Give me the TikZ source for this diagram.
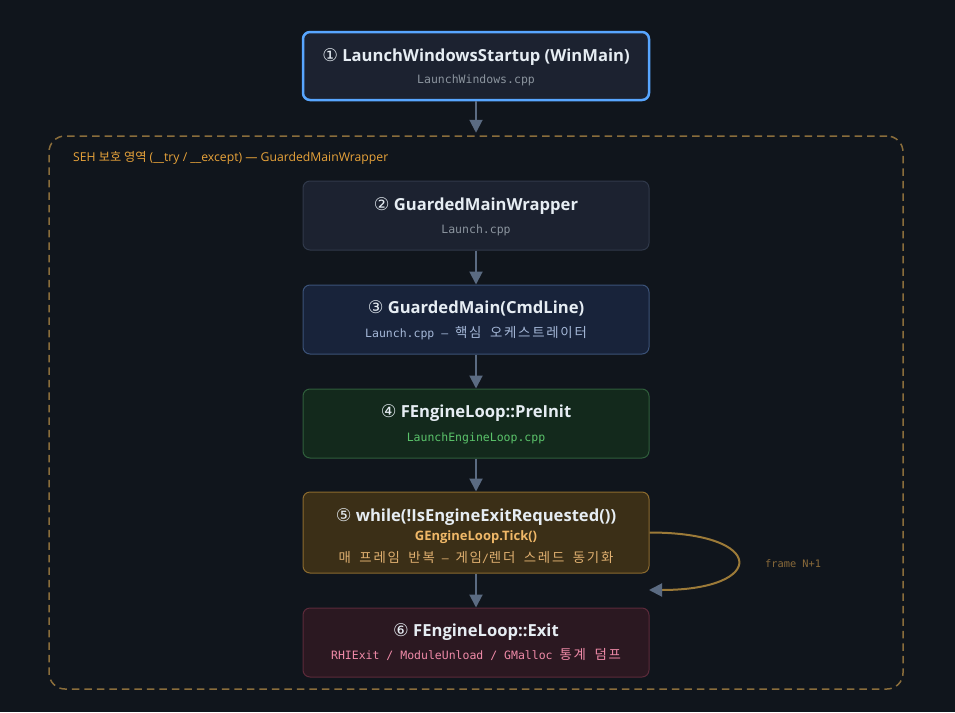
\documentclass[tikz,border=0pt]{standalone}
\usepackage{fontspec}
\setmainfont{Open Sans}
\setmonofont{DejaVu Sans Mono}
\newfontfamily\kr{Noto Sans CJK KR}[LetterSpace=13,WordSpace=1.8]
\newfontfamily\krplain{Noto Sans CJK KR}
\newfontfamily\sym{DejaVu Sans}
\usetikzlibrary{arrows.meta}
\definecolor{bg}{HTML}{10151C}
\definecolor{boxfill}{HTML}{1C2230}
\definecolor{boxline}{HTML}{30394A}
\definecolor{blueline}{HTML}{58A6FF}
\definecolor{bluefill}{HTML}{18233A}
\definecolor{blueedge}{HTML}{3B5278}
\definecolor{greenfill}{HTML}{13291C}
\definecolor{greenedge}{HTML}{2F5E3B}
\definecolor{goldfill}{HTML}{3B2F17}
\definecolor{goldedge}{HTML}{8B6A2E}
\definecolor{redfill}{HTML}{2B1821}
\definecolor{rededge}{HTML}{5C2A3A}
\definecolor{titlec}{HTML}{E6EDF3}
\definecolor{greyc}{HTML}{8B949E}
\definecolor{bluesub}{HTML}{A5B8D8}
\definecolor{greensub}{HTML}{5BC46B}
\definecolor{goldsub}{HTML}{F0B868}
\definecolor{goldsubb}{HTML}{E0B070}
\definecolor{pinksub}{HTML}{F08AA8}
\definecolor{arrowc}{HTML}{5B6B82}
\definecolor{framec}{HTML}{8A6D3B}
\definecolor{sehc}{HTML}{E8A33A}
\definecolor{loopc}{HTML}{9C7A38}
\definecolor{framelab}{HTML}{8A6A3A}
\newcommand{\krt}[1]{{\kr\fontsize{13.4}{15}\selectfont #1}}
\begin{document}
\begin{tikzpicture}[x=1pt,y=-1pt,
  box/.style={rectangle, rounded corners=7pt, minimum width=346pt, inner sep=0pt, line width=1pt},
  ttl/.style={anchor=base, text=titlec, font=\bfseries\fontsize{16.6}{18}\selectfont, inner sep=0pt},
  sub/.style={anchor=base, font=\fontsize{11.5}{13}\selectfont\ttfamily, inner sep=0pt},
  arr/.style={draw=arrowc, line width=2pt, -{Triangle[length=13pt,width=13pt]}},
]
\fill[bg] (0,0) rectangle (955,712);
\useasboundingbox (0,0) rectangle (955,712);

% SEH frame
\node[rectangle, rounded corners=16pt, draw=framec, line width=1.5pt, dash pattern=on 7.5pt off 5pt,
      minimum width=854pt, minimum height=553pt, inner sep=0pt] (seh) at (476,412.5) {};
\node[anchor=base west, inner sep=0pt, text=sehc, font=\fontsize{12.2}{14}\selectfont] (sehlab) at (73,161.5)
  {SEH {\krplain 보호 영역} (\_\_try / \_\_except) — GuardedMainWrapper};

% boxes
\node[box, fill=boxfill, draw=blueline, line width=2.5pt, minimum height=68pt] (n1) at (476,66) {};
\node[box, fill=boxfill, draw=boxline, minimum height=69pt] (n2) at (476,215.5) {};
\node[box, fill=bluefill, draw=blueedge, minimum height=69pt] (n3) at (476,319.5) {};
\node[box, fill=greenfill, draw=greenedge, minimum height=69pt] (n4) at (476,423.5) {};
\node[box, fill=goldfill, draw=goldedge, minimum height=81pt] (n5) at (476,532.5) {};
\node[box, fill=redfill, draw=rededge, minimum height=69pt] (n6) at (476,642.5) {};

% texts
\node[ttl] (t1) at (476,61) {{\sym\mdseries\fontsize{17.5}{18}\selectfont ①} LaunchWindowsStartup (WinMain)};
\node[sub, text=greyc] (s1) at (476,83.5) {LaunchWindows.cpp};

\node[ttl] (t2) at (476,210) {{\sym\mdseries\fontsize{17.5}{18}\selectfont ②} GuardedMainWrapper};
\node[sub, text=greyc] (s2) at (476,233) {Launch.cpp};

\node[ttl] (t3) at (476,313) {{\sym\mdseries\fontsize{17.5}{18}\selectfont ③} GuardedMain(CmdLine)};
\node[sub, text=bluesub] (s3) at (476,337) {Launch.cpp – \krt{핵심 오케스트레이터}};

\node[ttl] (t4) at (476,417.5) {{\sym\mdseries\fontsize{17.5}{18}\selectfont ④} FEngineLoop::PreInit};
\node[sub, text=greensub] (s4) at (476,441) {LaunchEngineLoop.cpp};

\node[ttl] (t5) at (476,521.5) {{\sym\mdseries\fontsize{17.5}{18}\selectfont ⑤} while(!IsEngineExitRequested())};
\node[anchor=base, inner sep=0pt, text=goldsub, font=\bfseries\fontsize{13}{15}\selectfont] (s5a) at (476,540.5) {GEngineLoop.Tick()};
\node[sub, text=goldsubb] (s5b) at (476,562.5) {\krt{매 프레임 반복} – \krt{게임}/\krt{렌더 스레드 동기화}};

\node[ttl] (t6) at (476,636.5) {{\sym\mdseries\fontsize{17.5}{18}\selectfont ⑥} FEngineLoop::Exit};
\node[sub, text=pinksub] (s6) at (476,659) {RHIExit / ModuleUnload / GMalloc \krt{통계 덤프}};

% connectors
\draw[arr] (n1.south) -- ([yshift=2.5pt]seh.north);
\draw[arr] (n2) -- (n3);
\draw[arr] (n3) -- (n4);
\draw[arr] (n4) -- (n5);
\draw[arr] (n5) -- (n6);

% loop
\coordinate (loopend) at (649,590);
\draw[draw=loopc, line width=2pt, -{Triangle[length=13pt,width=13pt,color=arrowc]}]
  (n5.east) .. controls +(118,0) and +(118,0) .. (loopend);
\node[anchor=base west, inner sep=0pt, text=framelab, font=\fontsize{10.3}{12}\selectfont\ttfamily] (flab) at (765,567.3) {frame N+1};
\end{tikzpicture}
\end{document}
